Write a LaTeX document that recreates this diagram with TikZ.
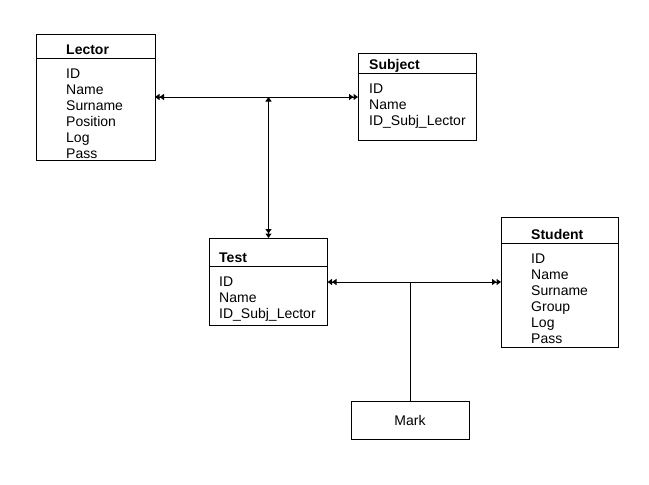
\documentclass[tikz,border=0pt]{standalone}
\usepackage{fontspec}
\setmainfont{Liberation Sans}
\usetikzlibrary{arrows.meta}
\begin{document}
\begin{tikzpicture}[x=1pt,y=-1pt,
  box/.style={draw, line width=1pt, inner sep=0pt, outer sep=0pt},
  txt/.style={anchor=base west, inner sep=0pt, font=\fontsize{14}{16}\selectfont},
  ttl/.style={txt, font=\fontsize{14}{16}\selectfont\bfseries},
  conn/.style={line width=1pt},
  tip/.tip={Triangle[length=4.5pt,width=6pt]},
  dbl/.style={-{tip[]tip[]}}
]
\fill[white] (0,0) rectangle (649,485);
\useasboundingbox (0,0) rectangle (649,485);

% Lector
\node[box, minimum width=119pt, minimum height=126pt] (lector) at (95.5,97) {};
\draw[conn] (lector.west |- 0,58) -- (lector.east |- 0,58);
\node[ttl] (lt) at (66,54) {Lector};
\node[txt] (l1) at (66,78) {ID};
\node[txt] (l2) at (66,94) {Name};
\node[txt] (l3) at (66,110) {Surname};
\node[txt] (l4) at (66,126) {Position};
\node[txt] (l5) at (66,142) {Log};
\node[txt] (l6) at (66,158) {Pass};

% Subject
\node[box, minimum width=118pt, minimum height=87pt] (subject) at (417,96.5) {};
\draw[conn] (subject.west |- 0,73) -- (subject.east |- 0,73);
\node[ttl] (st) at (369,69) {Subject};
\node[txt] (s1) at (369,93) {ID};
\node[txt] (s2) at (369,109) {Name};
\node[txt] (s3) at (369,125) {ID\_Subj\_Lector};

% Test
\node[box, minimum width=118pt, minimum height=87pt] (test) at (268.5,281.5) {};
\draw[conn] (test.west |- 0,266) -- (test.east |- 0,266);
\node[ttl] (tt) at (219,262) {Test};
\node[txt] (t1) at (219,286) {ID};
\node[txt] (t2) at (219,302) {Name};
\node[txt] (t3) at (219,318) {ID\_Subj\_Lector};

% Student
\node[box, minimum width=117pt, minimum height=130pt] (student) at (559.5,282) {};
\draw[conn] (student.west |- 0,243) -- (student.east |- 0,243);
\node[ttl] (dt) at (531,239) {Student};
\node[txt] (d1) at (531,263) {ID};
\node[txt] (d2) at (531,279) {Name};
\node[txt] (d3) at (531,295) {Surname};
\node[txt] (d4) at (531,311) {Group};
\node[txt] (d5) at (531,327) {Log};
\node[txt] (d6) at (531,343) {Pass};

% Mark
\node[box, minimum width=118pt, minimum height=38pt, font=\fontsize{14}{16}\selectfont] (mark) at (410,420) {Mark};

% connectors
\coordinate (j1) at (268.5,97);
\draw[conn, dbl] (j1) -- (lector.east |- j1);
\draw[conn, dbl] (j1) -- (subject.west |- j1);
\draw[conn, {tip[]}-{tip[]tip[]}] (j1) -- (test.north);

\coordinate (j2) at (410,282);
\draw[conn, dbl] (j2) -- (test.east |- j2);
\draw[conn, dbl] (j2) -- (student.west |- j2);
\draw[conn] (j2) -- (mark.north);
\end{tikzpicture}
\end{document}
